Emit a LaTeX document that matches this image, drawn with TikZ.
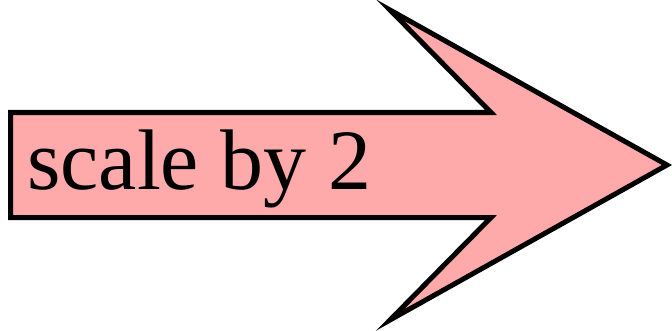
\documentclass[tikz,border=0pt]{standalone}
\usepackage{fontspec}
\setmainfont{Liberation Serif}
\definecolor{arrowfill}{HTML}{FFAAAA}
\begin{document}
\begin{tikzpicture}[x=1pt,y=1pt,
  arrowshape/.style={draw=black,fill=arrowfill,line width=5pt,line join=miter},
  arrowlabel/.style={anchor=base west,inner sep=0pt,font=\fontsize{86}{96}\selectfont}]
\useasboundingbox (0,0) rectangle (672,330);
\draw[arrowshape] (10.5,217.5) -- (491,217.5) -- (390,320) -- (667,165) -- (390,10) -- (491,112.5) -- (10.5,112.5) -- cycle;
\node[arrowlabel] (lbl) at (27,140.5) {scale by 2};
\end{tikzpicture}
\end{document}
